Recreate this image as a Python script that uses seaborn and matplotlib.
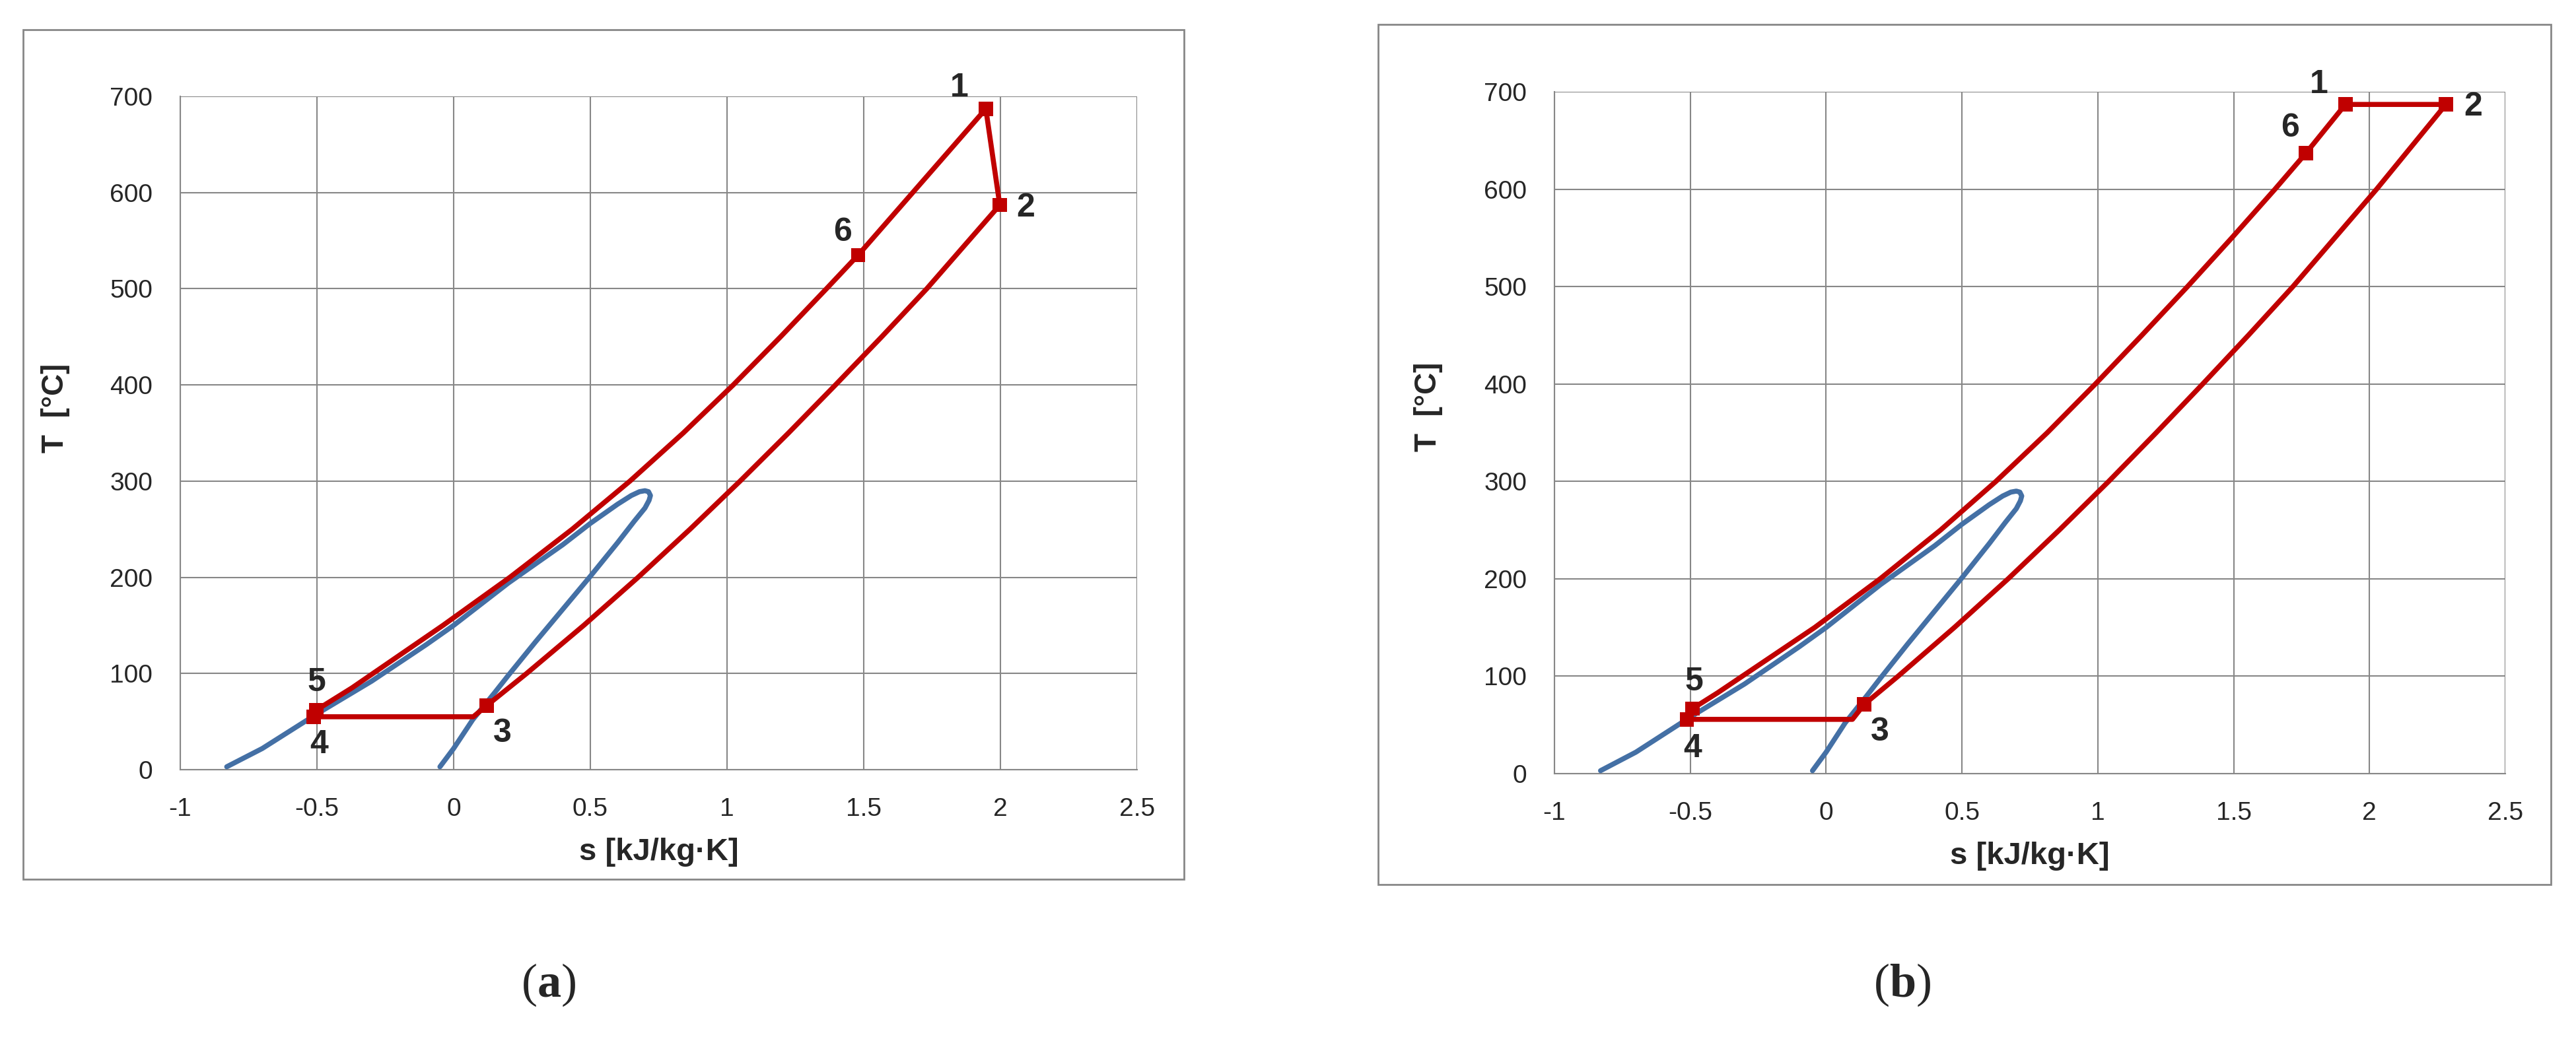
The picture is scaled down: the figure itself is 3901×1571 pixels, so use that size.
import numpy as np
import matplotlib
matplotlib.use("Agg")
import matplotlib.pyplot as plt
import seaborn as sns
from matplotlib.patches import Rectangle

# saturation dome (same fluid in both panels)
dome_s = [-0.83, -0.70, -0.50, -0.30, -0.10, 0.00, 0.20, 0.40, 0.50, 0.60, 0.65, 0.68,
          0.70, 0.713, 0.72, 0.715, 0.70, 0.66, 0.60, 0.50, 0.40, 0.30, 0.20, 0.15,
          0.07, 0.00, -0.05]
dome_T = [3, 22, 58, 92, 130, 150, 194, 234, 256, 276, 285, 289,
          290, 289, 285, 280, 272, 258, 236, 201, 167, 133, 98, 80,
          52, 22, 3]

# cycle (a): 1 -> 2 -> 3 -> 4 -> 5 -> 6 -> 1
cyc_a_s = [1.947, 1.998, 1.731, 1.566, 1.397, 1.225, 1.048, 0.865, 0.675, 0.476,
           0.267, 0.121, 0.072, -0.512, -0.502, -0.372, -0.039, 0.206, 0.434,
           0.645, 0.840, 1.023, 1.196, 1.364, 1.48, 1.947]
cyc_a_T = [687, 587, 500, 450, 400, 350, 300, 250, 200, 150,
           100, 66.6, 55, 55, 62, 85, 150, 200, 250,
           300, 350, 400, 450, 500, 535, 687]
pts_a_s = [1.947, 1.998, 0.121, -0.512, -0.502, 1.48]
pts_a_T = [687, 587, 66.6, 55, 62, 535]

# cycle (b)
cyc_b_s = [1.911, 2.281, 2.026, 1.718, 1.554, 1.386, 1.215, 1.040, 0.858, 0.670, 0.472,
           0.265, 0.140, 0.097, -0.512, -0.492, -0.399, -0.042, 0.199, 0.421, 0.625,
           0.814, 0.991, 1.162, 1.330, 1.493, 1.652, 1.766, 1.911]
cyc_b_T = [687, 687, 600, 500, 450, 400, 350, 300, 250, 200, 150,
           100, 71, 55.7, 55.7, 66.6, 83, 150, 200, 250, 300,
           350, 400, 450, 500, 550, 600, 637, 687]
pts_b_s = [1.911, 2.281, 0.140, -0.512, -0.492, 1.766]
pts_b_T = [687, 687, 71, 55.7, 66.6, 637]

pt_labels = ["1", "2", "3", "4", "5", "6"]
offs_a = [(-29, 23), (28, -3), (17, -30), (6, -30), (0, 30), (-17, 25)]
offs_b = [(-29, 22), (30, -3), (17, -30), (6, -32), (2, 29), (-17, 27)]

x_ticks = [-1, -0.5, 0, 0.5, 1, 1.5, 2, 2.5]
x_ticklabels = ["-1", "-0.5", "0", "0.5", "1", "1.5", "2", "2.5"]
y_ticks = [0, 100, 200, 300, 400, 500, 600, 700]

RED = "#c00000"
BLUE = "#4470a5"
GRID = "#878787"

sns.set_style("white")
plt.rcParams['font.family'] = ['Liberation Sans Narrow', 'Liberation Sans', 'DejaVu Sans']
plt.rcParams['mathtext.fontset'] = 'custom'
plt.rcParams['mathtext.rm'] = 'Liberation Serif'
plt.rcParams['mathtext.bf'] = 'Liberation Serif:bold'

fig = plt.figure(figsize=(39.01, 15.71), dpi=100)
ax_a = fig.add_axes([0.06998, 0.2578, 0.3714, 0.6493])
ax_b = fig.add_axes([0.6034, 0.2540, 0.3692, 0.6575])


def draw_panel(ax, cyc_s, cyc_T, pts_s, pts_T, offs, ylab_xy):
    sns.lineplot(x=dome_s, y=dome_T, sort=False, estimator=None, color=BLUE,
                 lw=5.5, ax=ax, zorder=3)
    sns.lineplot(x=cyc_s, y=cyc_T, sort=False, estimator=None, color=RED,
                 lw=5.5, ax=ax, zorder=4)
    sns.scatterplot(x=pts_s, y=pts_T, marker="s", s=15.5 ** 2, color=RED,
                    edgecolor="none", ax=ax, zorder=5)
    for lab, xs, yt, off in zip(pt_labels, pts_s, pts_T, offs):
        ax.annotate(lab, (xs, yt), xytext=off, textcoords="offset points",
                    ha="center", va="center", fontsize=36, fontweight="bold")
    ax.set_xlim(-1, 2.5)
    ax.set_ylim(0, 700)
    ax.set_xticks(x_ticks)
    ax.set_xticklabels(x_ticklabels)
    ax.set_yticks(y_ticks)
    ax.grid(True, color=GRID, lw=1.5)
    ax.set_axisbelow(True)
    for side in ["top", "right"]:
        ax.spines[side].set_visible(False)
    for side in ["left", "bottom"]:
        ax.spines[side].set_color(GRID)
        ax.spines[side].set_linewidth(1.5)
    ax.tick_params(axis="both", length=10, width=1.5, color=GRID,
                   labelsize=28, pad=20)
    ax.set_xlabel("s [kJ/kg\u00b7K]", fontsize=34, fontweight="bold", labelpad=18)
    ax.set_ylabel("T  [\u00b0C]", fontsize=33, fontweight="bold")
    ax.yaxis.set_label_coords(*ylab_xy)


draw_panel(ax_a, cyc_a_s, cyc_a_T, pts_a_s, pts_a_T, offs_a, (-0.115, 0.537))
draw_panel(ax_b, cyc_b_s, cyc_b_T, pts_b_s, pts_b_T, offs_b, (-0.117, 0.538))

# outer frames around each panel
for x0, y0, x1, y1 in [(0.00897, 0.1521, 0.4596, 0.9714), (0.5350, 0.1470, 0.9903, 0.9764)]:
    fig.add_artist(Rectangle((x0, y0), x1 - x0, y1 - y0, transform=fig.transFigure,
                             fill=False, ec=GRID, lw=2))

fig.text(0.2128, 0.050, r"($\mathbf{a}$)", fontsize=52, ha="center", va="center",
         family="Liberation Serif")
fig.text(0.7383, 0.050, r"($\mathbf{b}$)", fontsize=52, ha="center", va="center",
         family="Liberation Serif")

fig.savefig("out.png", dpi=100)
